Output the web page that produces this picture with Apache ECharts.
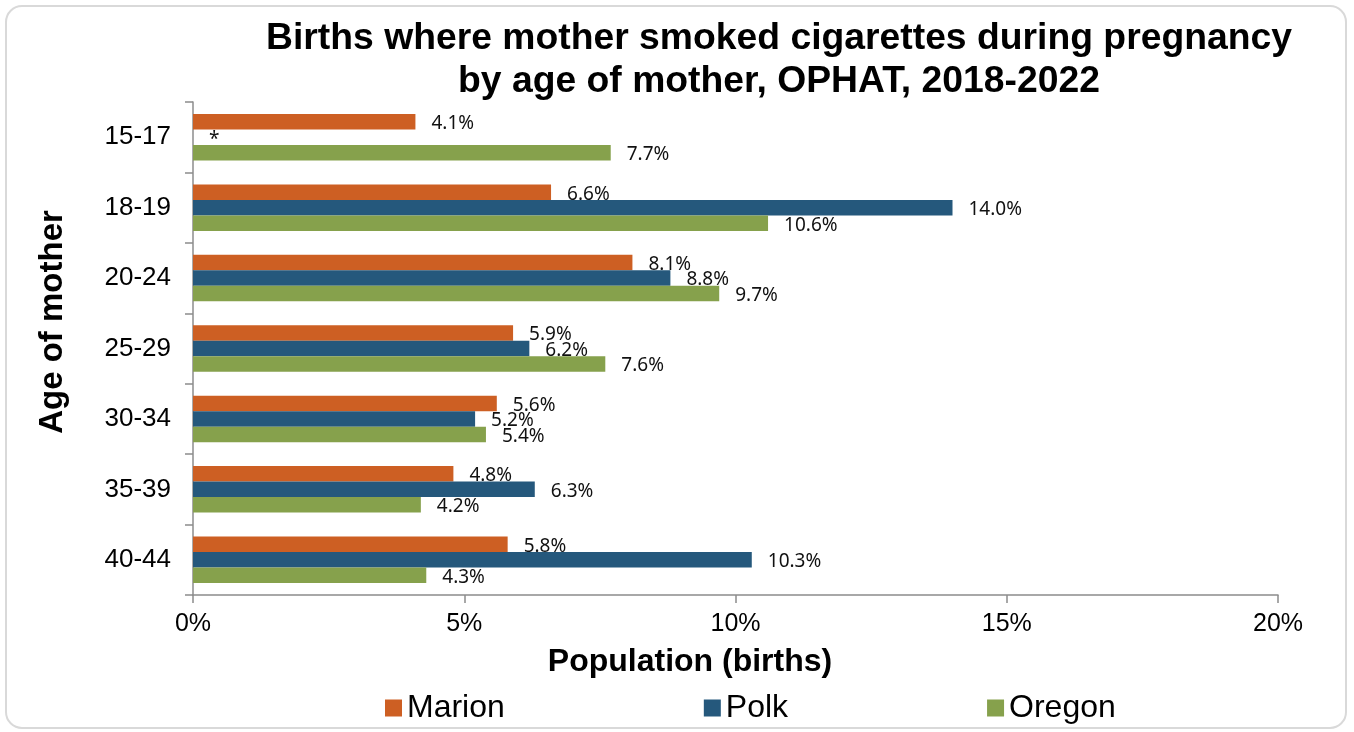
<!DOCTYPE html>
<html>
<head>
<meta charset="utf-8">
<script src="https://cdn.jsdelivr.net/npm/echarts@6/dist/echarts.min.js"></script>
<style>
html,body{margin:0;padding:0;background:#fff;}
#chart{width:1354px;height:732px;}
</style>
</head>
<body>
<div id="chart"></div>
<script>
const categories = ['15-17', '18-19', '20-24', '25-29', '30-34', '35-39', '40-44'];
const marion = [4.1, 6.6, 8.1, 5.9, 5.6, 4.8, 5.8];
const polk = [null, 14.0, 8.8, 6.2, 5.2, 6.3, 10.3];
const oregon = [7.7, 10.6, 9.7, 7.6, 5.4, 4.2, 4.3];
const xTicks = [0, 5, 10, 15, 20];

const chart = echarts.init(document.getElementById('chart'));
const axisGray = '#8c8c8c';
const labelStyle = {
  show: true,
  position: 'right',
  distance: 16,
  offset: [0, 2],
  fontFamily: 'Noto Sans',
  fontSize: 19,
  color: '#111',
  formatter: p => p.value.toFixed(1) + '%'
};

function seriesData(arr) {
  return arr.map(v => v === null ? { value: 0, label: { formatter: '*' } } : v);
}

chart.setOption({
  animation: false,
  backgroundColor: '#fff',
  title: [{
    text: 'Births where mother smoked cigarettes during pregnancy\nby age of mother, OPHAT, 2018-2022',
    left: 774,
    top: 12,
    textAlign: 'center',
    textStyle: { fontFamily: 'Liberation Sans', fontWeight: 'bold', fontSize: 37.3, lineHeight: 43, color: '#000' }
  }, {
    text: 'Population (births)',
    left: 685,
    top: 641,
    textAlign: 'center',
    textStyle: { fontFamily: 'Liberation Sans', fontWeight: 'bold', fontSize: 32, color: '#000' }
  }],
  graphic: [{
    type: 'rect',
    silent: true,
    shape: { x: 6, y: 6, width: 1340, height: 722, r: 16 },
    style: { fill: 'none', stroke: '#d9d9d9', lineWidth: 2 }
  }, {
    type: 'text',
    x: 53, y: 322,
    rotation: Math.PI / 2,
    style: { text: 'Age of mother', font: 'bold 33px "Liberation Sans"', fill: '#000', align: 'center', verticalAlign: 'middle' }
  }],
  legend: {
    left: 380,
    top: 687,
    itemWidth: 17,
    itemHeight: 17,
    itemGap: 199,
    icon: 'rect',
    textStyle: { fontFamily: 'Liberation Sans', fontSize: 32, color: '#000' },
    data: ['Marion', 'Polk', 'Oregon']
  },
  grid: { left: 193, right: 76, top: 102, bottom: 137, containLabel: false },
  xAxis: {
    type: 'value',
    min: 0, max: 20, interval: 5,
    axisLine: { show: true, lineStyle: { color: axisGray, width: 1.5 } },
    axisTick: { show: true, length: 8, lineStyle: { color: axisGray, width: 1.5 } },
    splitLine: { show: false },
    axisLabel: {
      margin: 17,
      fontFamily: 'Liberation Sans', fontSize: 25, color: '#000',
      formatter: v => xTicks.includes(v) ? v + '%' : ''
    }
  },
  yAxis: {
    type: 'category',
    inverse: true,
    data: categories,
    axisLine: { show: true, lineStyle: { color: axisGray, width: 1.5 } },
    axisTick: { show: true, length: 8, lineStyle: { color: axisGray, width: 1.5 } },
    axisLabel: { margin: 22, fontFamily: 'Liberation Sans', fontSize: 26, color: '#000' }
  },
  series: [{
    name: 'Marion', type: 'bar', data: seriesData(marion),
    itemStyle: { color: '#CD5F23' },
    barGap: '0%', barCategoryGap: '34%',
    label: labelStyle
  }, {
    name: 'Polk', type: 'bar', data: seriesData(polk),
    itemStyle: { color: '#25587C' },
    barGap: '0%', barCategoryGap: '34%',
    label: labelStyle
  }, {
    name: 'Oregon', type: 'bar', data: seriesData(oregon),
    itemStyle: { color: '#86A14C' },
    barGap: '0%', barCategoryGap: '34%',
    label: labelStyle
  }]
});
</script>
</body>
</html>
